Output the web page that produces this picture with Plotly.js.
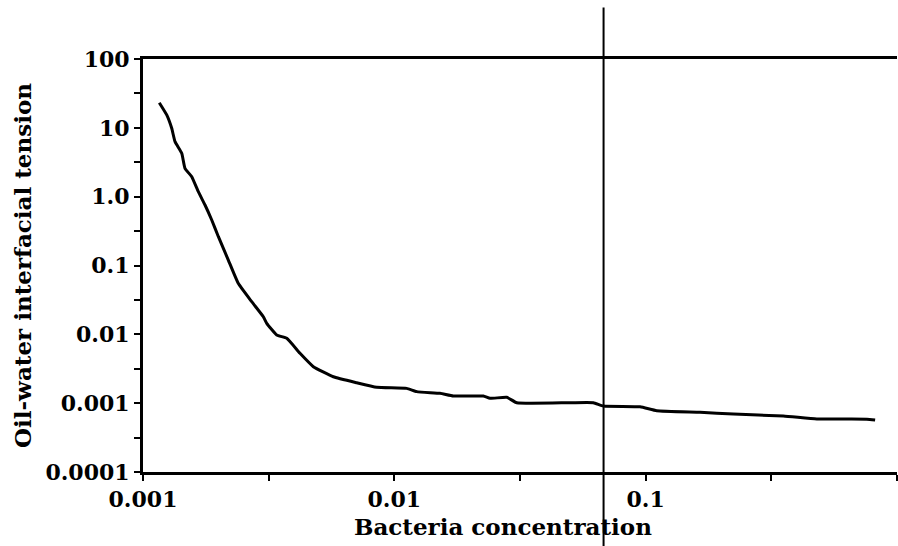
<!DOCTYPE html>
<html>
<head>
<meta charset="utf-8">
<script src="https://cdn.plot.ly/plotly-3.0.1.min.js"></script>
<style>html,body{margin:0;padding:0;background:#fff;}#chart{width:898px;height:546px;}</style>
</head>
<body>
<div id="chart"></div>
<script>
// Bacteria concentration (x) and oil-water interfacial tension (y)
const concentration = [0.001161,0.001243,0.001301,0.001341,0.001426,0.001469,0.001563,0.001660,0.001765,0.001877,0.001995,0.002185,0.002393,0.002707,0.003011,0.003107,0.003404,0.003733,0.004214,0.004762,0.005718,0.007088,0.008511,0.01120,0.01228,0.01520,0.01717,0.02260,0.02403,0.02802,0.03070,0.05003,0.06192,0.06788,0.09499,0.1107,0.1646,0.2234,0.3532,0.4798,0.7585,0.8184];
const tension = [23.2,15.4,9.84,6.29,4.27,2.58,1.95,1.18,0.757,0.458,0.262,0.120,0.0551,0.0298,0.0180,0.01445,0.00977,0.00875,0.00530,0.00339,0.00242,0.00198,0.00170,0.00164,0.00147,0.00139,0.00127,0.00127,0.001175,0.001216,0.001015,0.001015,0.001015,0.000909,0.000887,0.000777,0.000736,0.000695,0.000650,0.000589,0.000585,0.000569];

const xTickVals = [0.001,0.00316,0.01,0.0316,0.1,0.316,1];
const xTickText = ['0.001','','0.01','','0.1','','1'];
const yTickVals = [0.0001,0.000316,0.001,0.00316,0.01,0.0316,0.1,0.316,1,3.16,10,31.6,100];
const yTickText = ['0.0001','','0.001','','0.01','','0.1','','1.0','','10','','100'];
const markerX = 0.068;   // vertical reference line position
const xTitle = 'Bacteria concentration';
const yTitle = 'Oil-water interfacial tension';

const fam = '"DejaVu Serif", "Liberation Serif", serif';

const trace = {
  x: concentration, y: tension, type: 'scatter', mode: 'lines',
  line: {color: '#000', width: 3, shape: 'spline', smoothing: 0.4}, hoverinfo: 'skip'
};

const layout = {
  width: 898, height: 546,
  margin: {l: 143, r: 1, t: 59, b: 74},
  paper_bgcolor: '#fff', plot_bgcolor: '#fff',
  showlegend: false,
  font: {family: fam, size: 22, color: '#000'},
  xaxis: {
    type: 'log', range: [-3, 0],
    tickmode: 'array', tickvals: xTickVals, ticktext: xTickText,
    ticks: 'outside', ticklen: 6, tickwidth: 2, tickcolor: '#000',
    showline: true, linewidth: 3, linecolor: '#000', mirror: true,
    showgrid: false, zeroline: false,
    tickfont: {family: fam, size: 22, color: '#000', weight: 'bold'}
  },
  yaxis: {
    type: 'log', range: [-4, 2],
    tickmode: 'array', tickvals: yTickVals, ticktext: yTickText,
    ticks: 'outside', ticklen: 6, tickwidth: 2, tickcolor: '#000',
    showline: true, linewidth: 3, linecolor: '#000', mirror: false,
    showgrid: false, zeroline: false,
    tickfont: {family: fam, size: 22, color: '#000', weight: 'bold'},
    title: {text: '<b>' + yTitle + '</b>', font: {family: fam, size: 23, color: '#000'}, standoff: 8}
  },
  annotations: [{
    text: '<b>' + xTitle + '</b>', xref: 'paper', yref: 'paper',
    x: 0.477, y: -0.094, xanchor: 'center', yanchor: 'top', showarrow: false,
    font: {family: fam, size: 23, color: '#000'}
  }],
  shapes: [{
    type: 'line', xref: 'x', yref: 'paper',
    x0: markerX, x1: markerX, y0: -0.2, y1: 1.125,
    line: {color: '#000', width: 2}
  }]
};

Plotly.newPlot('chart', [trace], layout, {staticPlot: true, displayModeBar: false});
</script>
</body>
</html>
